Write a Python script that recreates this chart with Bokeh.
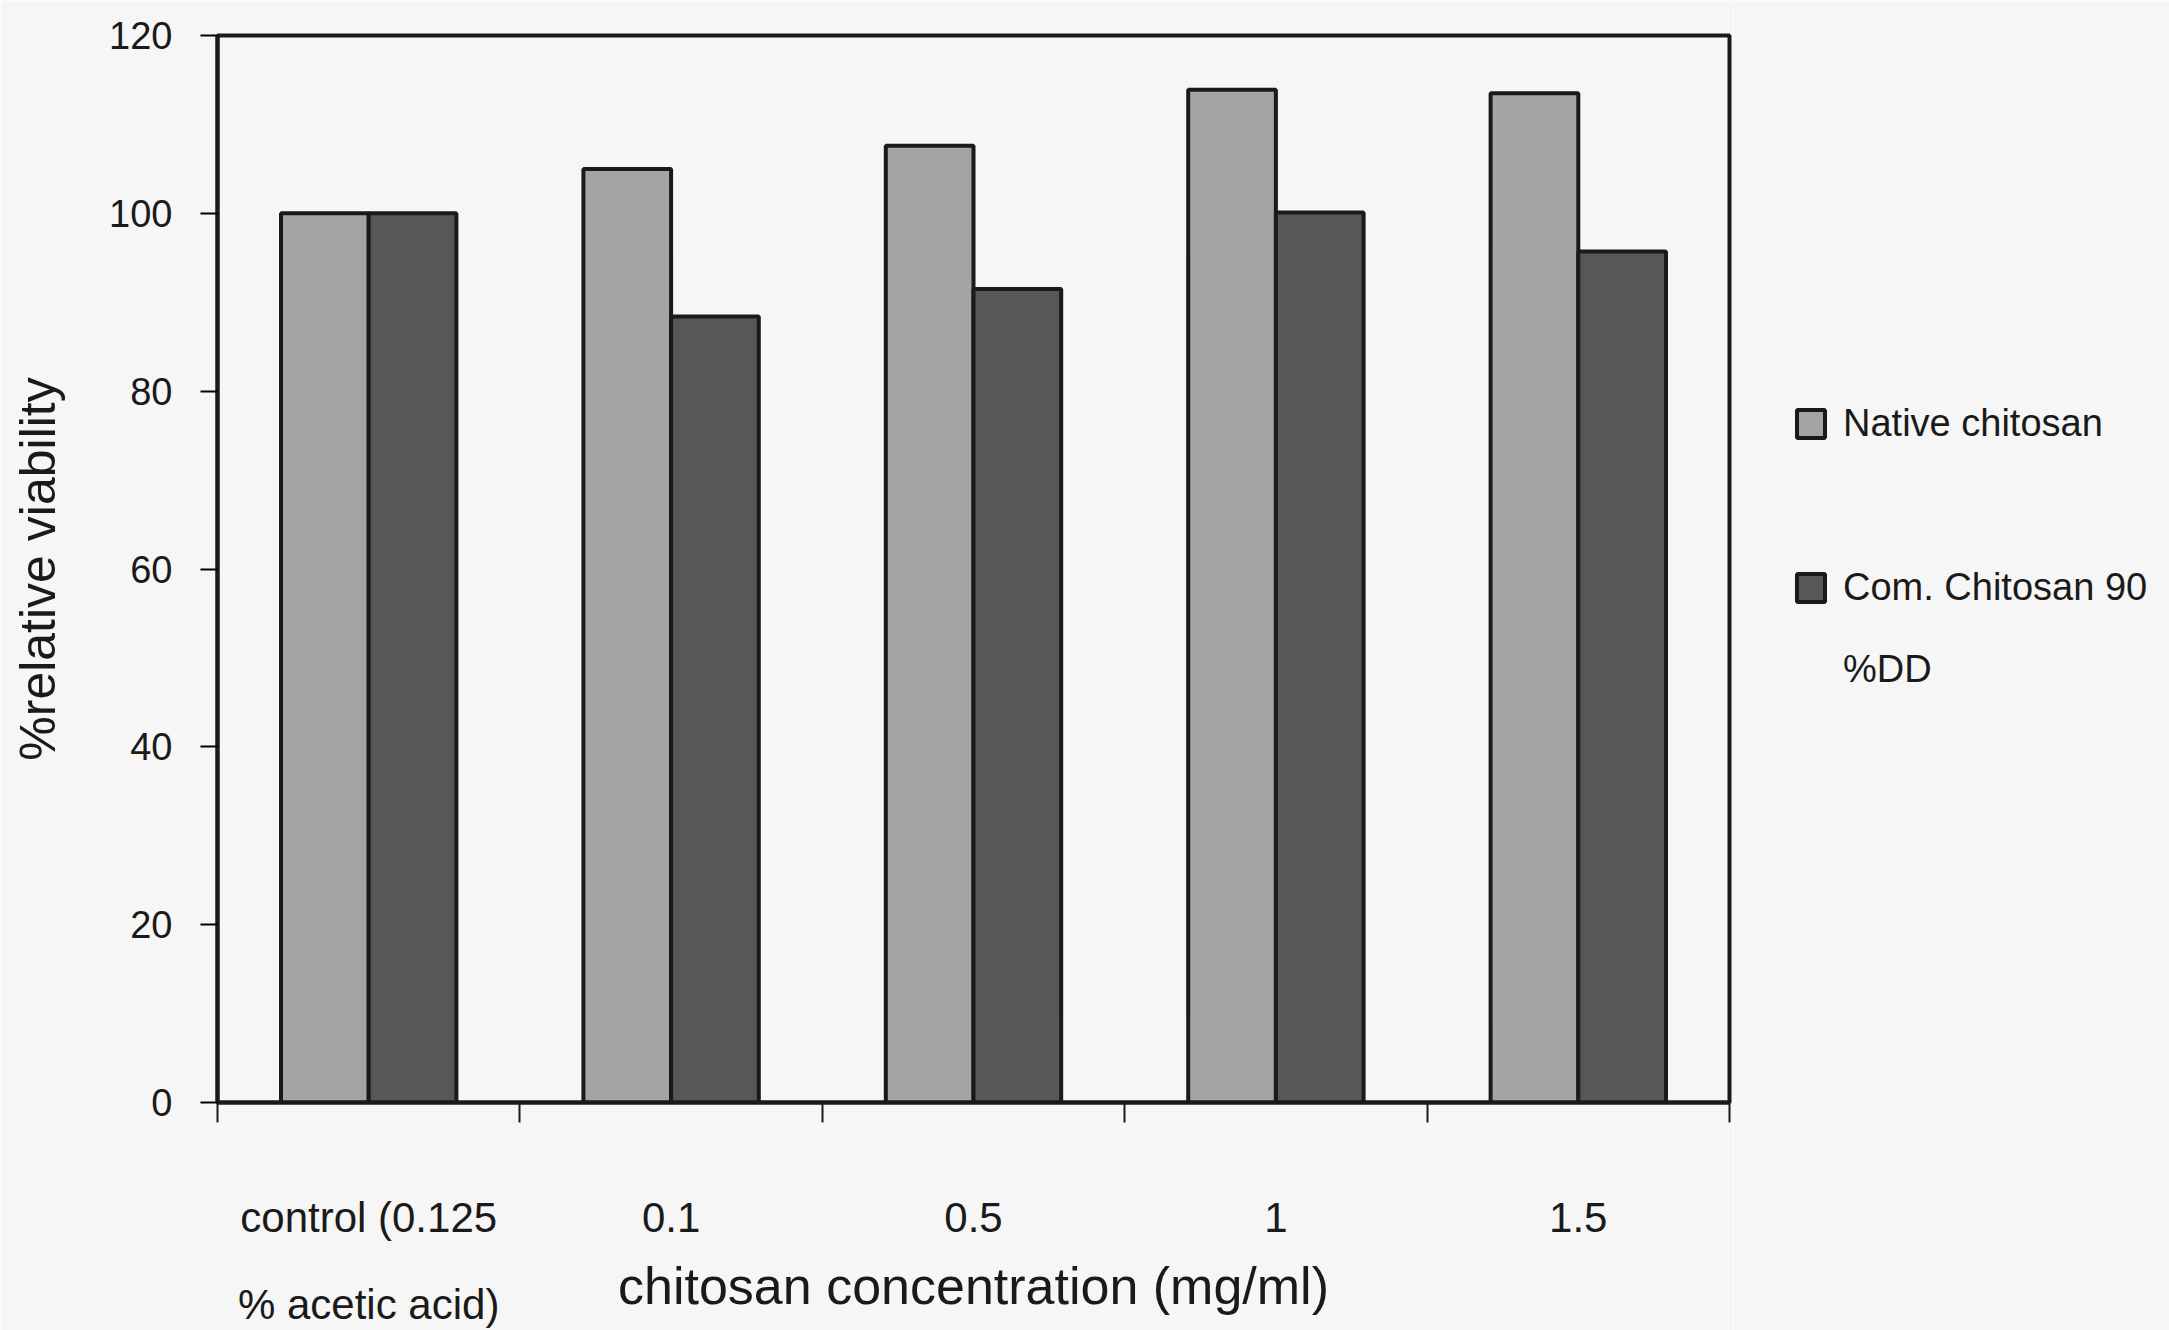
from bokeh.plotting import figure
from bokeh.layouts import row
from bokeh.models import Range1d, FixedTicker, Legend, LegendItem, ColumnDataSource
from bokeh.transform import dodge
from bokeh.embed import file_html
from bokeh.resources import INLINE

# ---- data ----
categories = ["control (0.125\n% acetic acid)", "0.1", "0.5", "1", "1.5"]
native_chitosan = [100.0, 105.0, 107.6, 113.9, 113.5]
com_chitosan_90 = [100.0, 88.4, 91.5, 100.1, 95.7]
y_ticks = [0, 20, 40, 60, 80, 100, 120]
series_native = "Native chitosan"
series_com = ["Com. Chitosan 90", "%DD"]   # legend label wraps onto two lines
x_title = "chitosan concentration (mg/ml)"
y_title = "%relative viability"

FONT = "Liberation Sans"
BG = "#f6f6f6"
INK = "#1a1a1a"
NATIVE_FILL = "#a4a4a4"
COM_FILL = "#575757"

xs = [i + 0.5 for i in range(len(categories))]
src = ColumnDataSource(dict(x=xs, native=native_chitosan, com=com_chitosan_90))

MAIN_W = 1733
p = figure(width=MAIN_W, height=1330, output_backend="svg", toolbar_location=None,
           x_range=Range1d(0, len(categories)), y_range=Range1d(0, 120),
           min_border_left=217, min_border_right=4, min_border_top=35, min_border_bottom=228)
p.background_fill_color = BG
p.border_fill_color = BG
p.outline_line_color = INK
p.outline_line_width = 4
p.xgrid.visible = False
p.ygrid.visible = False

p.vbar(x=dodge("x", -0.145, range=p.x_range), top="native", width=0.29, source=src,
       fill_color=NATIVE_FILL, line_color=INK, line_width=4)
p.vbar(x=dodge("x", 0.145, range=p.x_range), top="com", width=0.29, source=src,
       fill_color=COM_FILL, line_color=INK, line_width=4)

# y axis
ya = p.yaxis[0]
ya.ticker = FixedTicker(ticks=y_ticks)
ya.axis_line_width = 4
ya.axis_line_color = INK
ya.major_tick_in = 0
ya.major_tick_out = 17
ya.major_tick_line_width = 2
ya.minor_tick_line_color = None
ya.major_label_text_font = FONT
ya.major_label_text_font_size = "38px"
ya.major_label_text_color = INK
ya.major_label_standoff = 28
ya.axis_label = y_title
ya.axis_label_text_font = FONT
ya.axis_label_text_font_size = "50px"
ya.axis_label_text_font_style = "normal"
ya.axis_label_text_color = INK
ya.axis_label_standoff = 40

# x axis
xa = p.xaxis[0]
xa.ticker = FixedTicker(ticks=xs, minor_ticks=list(range(len(categories) + 1)))
xa.major_label_overrides = {x: c for x, c in zip(xs, categories)}
xa.axis_line_width = 4
xa.axis_line_color = INK
xa.major_tick_line_color = None
xa.major_tick_in = 0
xa.major_tick_out = 0
xa.minor_tick_in = 0
xa.minor_tick_out = 20
xa.minor_tick_line_width = 2
xa.minor_tick_line_color = INK
xa.major_label_text_font = FONT
xa.major_label_text_font_size = "42px"
xa.major_label_text_color = INK
xa.major_label_text_line_height = 1.86
xa.major_label_standoff = 71
xa.axis_label = x_title
xa.axis_label_text_font = FONT
xa.axis_label_text_font_size = "52px"
xa.axis_label_text_font_style = "normal"
xa.axis_label_text_color = INK
xa.axis_label_standoff = -74

# ---- legend panel (separate canvas to the right of the chart) ----
q = figure(width=2169 - MAIN_W, height=1330, output_backend="svg", toolbar_location=None,
           x_range=Range1d(0, 10), y_range=Range1d(0, 1),
           x_axis_location=None, y_axis_location=None, min_border=0)
q.background_fill_color = BG
q.border_fill_color = BG
q.outline_line_color = None
q.xgrid.visible = False
q.ygrid.visible = False
# hidden copies of the two series: only their legend swatches are shown
k1 = q.vbar(x="x", top="native", width=0.29, source=src, fill_color=NATIVE_FILL,
            line_color=INK, line_width=4, visible=False)
k2 = q.vbar(x="x", top="com", width=0.29, source=src, fill_color=COM_FILL,
            line_color=INK, line_width=4, visible=False)
k_blank = q.vbar(x="x", top="com", width=0.29, source=src, fill_alpha=0, line_alpha=0,
                 visible=False)

legend = Legend(items=[LegendItem(label=series_native, renderers=[k1]),
                       LegendItem(label="", renderers=[k_blank]),
                       LegendItem(label=series_com[0], renderers=[k2]),
                       LegendItem(label=series_com[1], renderers=[k_blank])],
                location=(60, 403), glyph_width=35, glyph_height=35,
                label_text_font=FONT, label_text_font_size="38px", label_text_color=INK,
                label_height=60, spacing=22, padding=0, margin=0,
                label_standoff=15, border_line_color=None, background_fill_alpha=0,
                inactive_fill_alpha=0)
q.add_layout(legend, "center")

open("out.html", "w").write(file_html(row(p, q), INLINE))
